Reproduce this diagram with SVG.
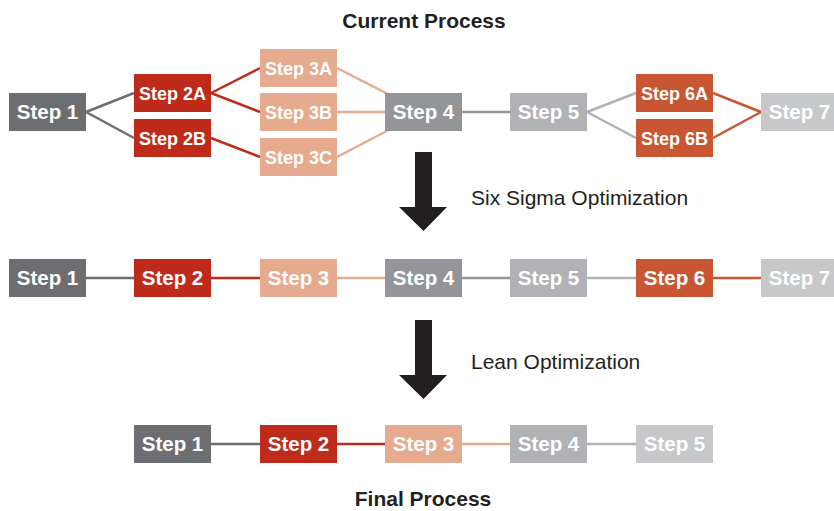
<svg xmlns="http://www.w3.org/2000/svg" width="834" height="511" viewBox="0 0 834 511">
<style>
.t{font-family:"Liberation Sans",Arial,sans-serif;font-weight:bold;fill:#fff;text-anchor:middle}
.big{font-size:20.5px}
.sm{font-size:18px}
.title{font-family:"Liberation Sans",Arial,sans-serif;font-weight:bold;font-size:21px;fill:#231f20;text-anchor:middle}
.lab{font-family:"Liberation Sans",Arial,sans-serif;font-size:21px;fill:#231f20}
.c1{fill:#6d6e71}.c2{fill:#bf2b1b}.c3{fill:#e6aa8f}.c4{fill:#939598}.c5{fill:#b1b2b5}.c6{fill:#c95633}.c7{fill:#c7c8ca}
.l{stroke-width:2.5;fill:none}
.k1{stroke:#6d6e71}.k2{stroke:#bf2b1b}.k3{stroke:#e6aa8f}.k4{stroke:#939598}.k5{stroke:#b1b2b5}.k6{stroke:#c95633}
.arr{fill:#231f20}
</style>
<g id="connectors">
<line class="l k1" x1="86" y1="112" x2="134" y2="93"/>
<line class="l k1" x1="86" y1="112" x2="134" y2="138"/>
<line class="l k2" x1="211" y1="93" x2="260" y2="68"/>
<line class="l k2" x1="211" y1="93" x2="260" y2="112"/>
<line class="l k2" x1="211" y1="138" x2="260" y2="157"/>
<line class="l k3" x1="337" y1="68" x2="423" y2="112"/>
<line class="l k3" x1="337" y1="112" x2="423" y2="112"/>
<line class="l k3" x1="337" y1="157" x2="423" y2="112"/>
<line class="l k4" x1="462" y1="112" x2="510" y2="112"/>
<line class="l k5" x1="587" y1="112" x2="636" y2="93"/>
<line class="l k5" x1="587" y1="112" x2="636" y2="138"/>
<line class="l k6" x1="713" y1="93" x2="761" y2="112"/>
<line class="l k6" x1="713" y1="138" x2="761" y2="112"/>
<line class="l k1" x1="86" y1="278" x2="134" y2="278"/>
<line class="l k2" x1="211" y1="278" x2="260" y2="278"/>
<line class="l k3" x1="337" y1="278" x2="385" y2="278"/>
<line class="l k4" x1="462" y1="278" x2="510" y2="278"/>
<line class="l k5" x1="587" y1="278" x2="636" y2="278"/>
<line class="l k6" x1="713" y1="278" x2="761" y2="278"/>
<line class="l k1" x1="211" y1="444" x2="260" y2="444"/>
<line class="l k2" x1="337" y1="444" x2="385" y2="444"/>
<line class="l k3" x1="462" y1="444" x2="510" y2="444"/>
<line class="l k5" x1="587" y1="444" x2="636" y2="444"/>
</g>
<text class="title" x="424" y="28">Current Process</text>
<g id="r1s1"><rect class="c1" x="9" y="93" width="77" height="38"/><text class="t big" x="47.5" y="119">Step 1</text></g>
<g id="r1s2a"><rect class="c2" x="134" y="74" width="77" height="38"/><text class="t sm" x="172.5" y="99.5">Step 2A</text></g>
<g id="r1s2b"><rect class="c2" x="134" y="119" width="77" height="38"/><text class="t sm" x="172.5" y="144.5">Step 2B</text></g>
<g id="r1s3a"><rect class="c3" x="260" y="49" width="77" height="38"/><text class="t sm" x="298.5" y="74.5">Step 3A</text></g>
<g id="r1s3b"><rect class="c3" x="260" y="93" width="77" height="38"/><text class="t sm" x="298.5" y="118.5">Step 3B</text></g>
<g id="r1s3c"><rect class="c3" x="260" y="138" width="77" height="38"/><text class="t sm" x="298.5" y="163.5">Step 3C</text></g>
<g id="r1s4"><rect class="c4" x="385" y="93" width="77" height="38"/><text class="t big" x="423.5" y="119">Step 4</text></g>
<g id="r1s5"><rect class="c5" x="510" y="93" width="77" height="38"/><text class="t big" x="548.5" y="119">Step 5</text></g>
<g id="r1s6a"><rect class="c6" x="636" y="74" width="77" height="38"/><text class="t sm" x="674.5" y="99.5">Step 6A</text></g>
<g id="r1s6b"><rect class="c6" x="636" y="119" width="77" height="38"/><text class="t sm" x="674.5" y="144.5">Step 6B</text></g>
<g id="r1s7"><rect class="c7" x="761" y="93" width="77" height="38"/><text class="t big" x="799.5" y="119">Step 7</text></g>
<polygon id="arrow1" class="arr" points="415,152 432,152 432,207 447,207 423.5,231 399,207 415,207"/>
<text class="lab" x="471" y="205">Six Sigma Optimization</text>
<g id="r2s1"><rect class="c1" x="9" y="259" width="77" height="38"/><text class="t big" x="47.5" y="285">Step 1</text></g>
<g id="r2s2"><rect class="c2" x="134" y="259" width="77" height="38"/><text class="t big" x="172.5" y="285">Step 2</text></g>
<g id="r2s3"><rect class="c3" x="260" y="259" width="77" height="38"/><text class="t big" x="298.5" y="285">Step 3</text></g>
<g id="r2s4"><rect class="c4" x="385" y="259" width="77" height="38"/><text class="t big" x="423.5" y="285">Step 4</text></g>
<g id="r2s5"><rect class="c5" x="510" y="259" width="77" height="38"/><text class="t big" x="548.5" y="285">Step 5</text></g>
<g id="r2s6"><rect class="c6" x="636" y="259" width="77" height="38"/><text class="t big" x="674.5" y="285">Step 6</text></g>
<g id="r2s7"><rect class="c7" x="761" y="259" width="77" height="38"/><text class="t big" x="799.5" y="285">Step 7</text></g>
<polygon id="arrow2" class="arr" points="415,320 432,320 432,375 447,375 423.5,399 399,375 415,375"/>
<text class="lab" x="471" y="369">Lean Optimization</text>
<g id="r3s1"><rect class="c1" x="134" y="425" width="77" height="38"/><text class="t big" x="172.5" y="451">Step 1</text></g>
<g id="r3s2"><rect class="c2" x="260" y="425" width="77" height="38"/><text class="t big" x="298.5" y="451">Step 2</text></g>
<g id="r3s3"><rect class="c3" x="385" y="425" width="77" height="38"/><text class="t big" x="423.5" y="451">Step 3</text></g>
<g id="r3s4"><rect class="c5" x="510" y="425" width="77" height="38"/><text class="t big" x="548.5" y="451">Step 4</text></g>
<g id="r3s5"><rect class="c7" x="636" y="425" width="77" height="38"/><text class="t big" x="674.5" y="451">Step 5</text></g>
<text class="title" x="423" y="506">Final Process</text>
</svg>
